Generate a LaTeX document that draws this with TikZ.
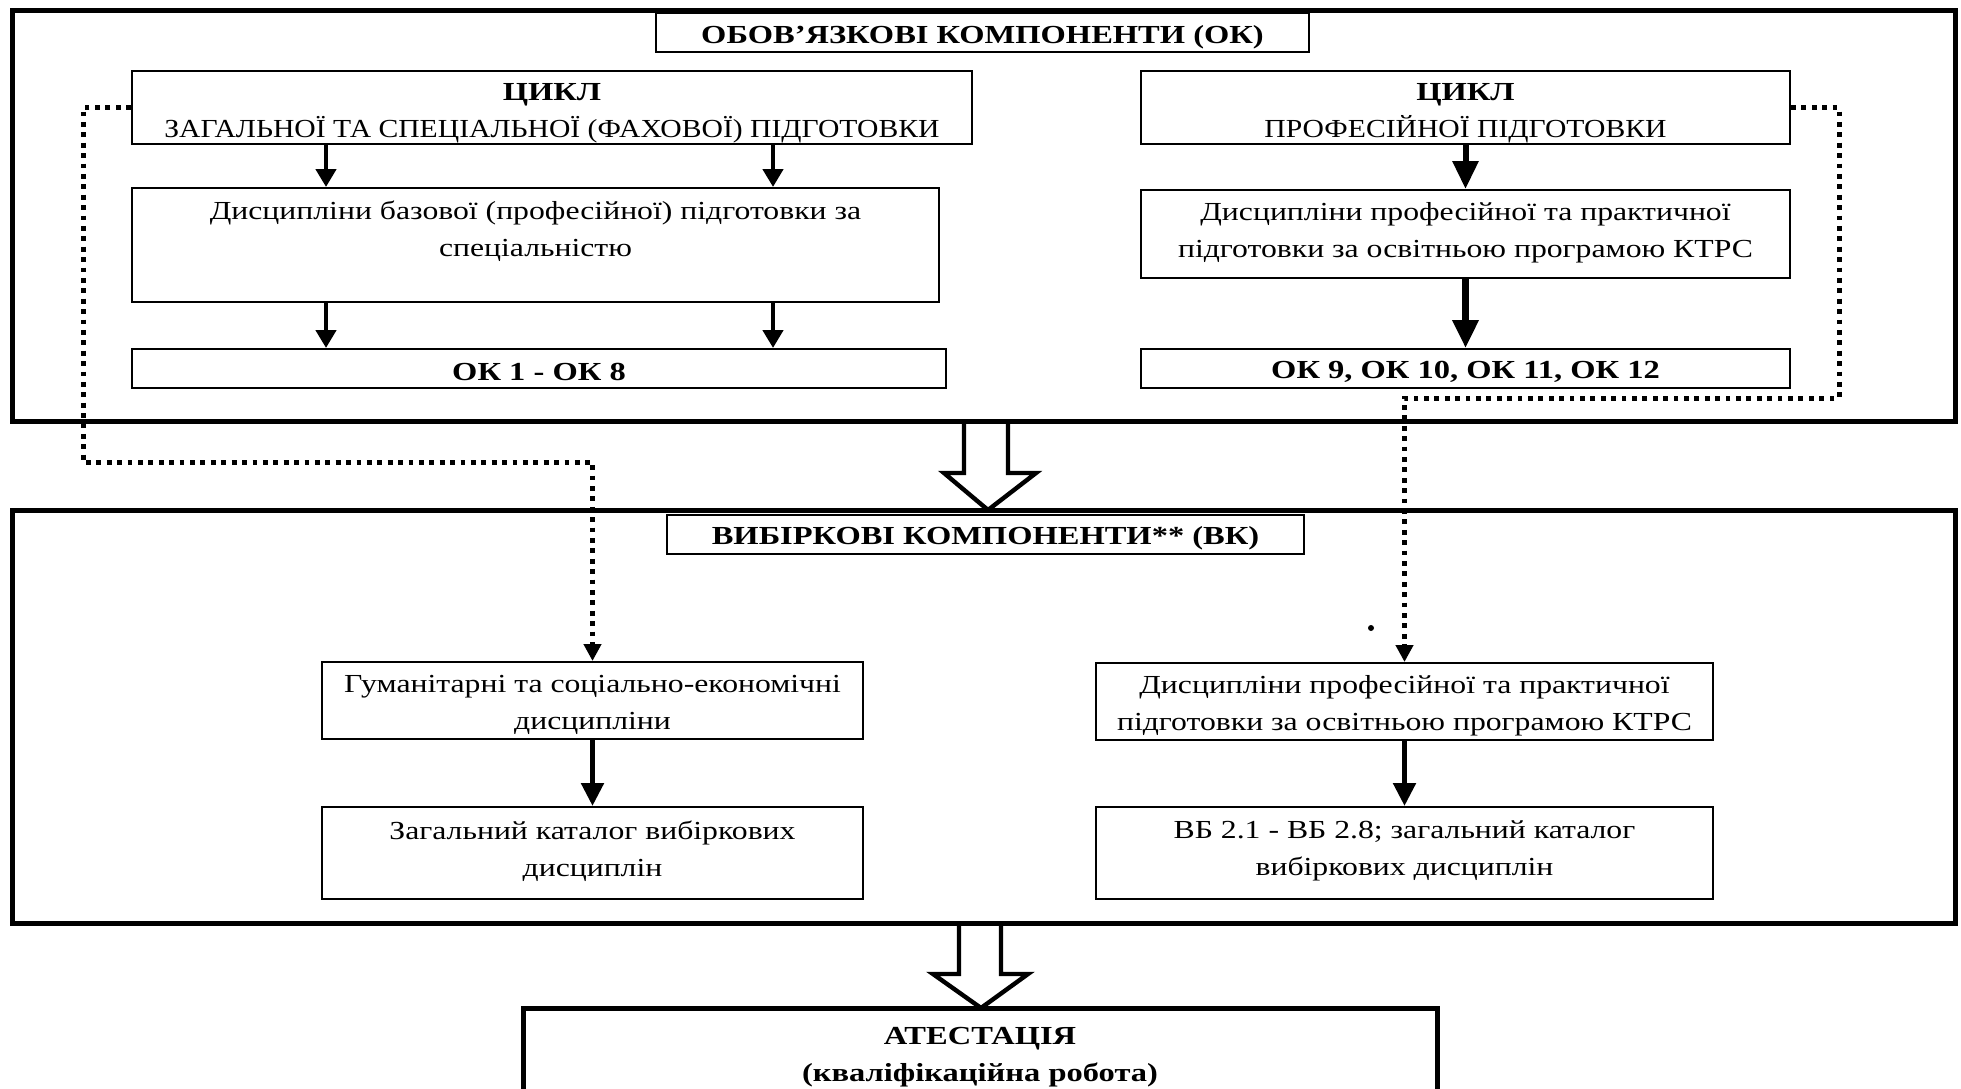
\documentclass[tikz,border=0pt]{standalone}
\usepackage{fontspec}
\setmainfont{Liberation Serif}[FakeStretch=1.22,BoldFeatures={FakeStretch=1.25}]
\newfontfamily\capsreg{Liberation Serif}[FakeStretch=1.14]
\usetikzlibrary{fit,arrows.meta}
\begin{document}
\begin{tikzpicture}[x=0.5pt,y=-0.5pt,
 every node/.style={font=\fontsize{13}{18.5}\selectfont},
 frame/.style={draw,line width=2.5pt,inner sep=0pt},
 box/.style={draw,line width=1pt,inner sep=0pt},
 tbox/.style={draw,line width=1.3pt,inner sep=0pt},
 txt/.style={align=center,inner sep=0pt},
 btxt/.style={txt,font=\fontsize{13}{18.5}\selectfont\bfseries},
 arrA/.style={line width=2.2pt,-{Triangle[length=9pt,width=10pt]}},
 arrB/.style={line width=3pt,-{Triangle[length=14pt,width=12.5pt]}},
 arrC/.style={line width=2.6pt,-{Triangle[length=11.5pt,width=11pt]}},
 dots/.style={line width=2.5pt,dash pattern=on 2.4pt off 2.8pt},
 dotarr/.style={dots,-{Triangle[length=8.5pt,width=8.5pt]}},
 hollow/.style={draw,fill=white,line width=2.2pt,line join=miter},
]
\useasboundingbox (0,0) rectangle (1961,1088);
\clip (0,0) rectangle (1961,1088);

% hollow arrows (drawn first, frames over them)
\draw[hollow] (964,421) -- (964,473) -- (944,473) -- (988,510) -- (1036,473) -- (1008,473) -- (1008,421);
\draw[hollow] (959,923) -- (959,974) -- (933,974) -- (981,1008) -- (1028,974) -- (1001,974) -- (1001,923);

% compulsory components
\node[frame,fit={(12,10)(1955,421)}] (ok) {};
\node[tbox,fit={(656,13)(1309,52)}] (okt) {};
\node[btxt] at (982.5,37) {ОБОВ’ЯЗКОВІ КОМПОНЕНТИ (ОК)};
\node[box,fit={(132,71)(972,144)}] (c1) {};
\node[txt] at (552,113) {\textbf{ЦИКЛ}\\{\capsreg ЗАГАЛЬНОЇ ТА СПЕЦІАЛЬНОЇ (ФАХОВОЇ) ПІДГОТОВКИ}};
\node[box,fit={(132,188)(939,302)}] (d1) {};
\node[txt] at (535.5,231) {Дисципліни базової (професійної) підготовки за\\спеціальністю};
\node[box,fit={(132,349)(946,388)}] (o1) {};
\node[btxt] at (539,372) {ОК 1 - ОК 8};
\node[box,fit={(1141,71)(1790,144)}] (c2) {};
\node[txt] at (1465.5,113) {\textbf{ЦИКЛ}\\{\capsreg ПРОФЕСІЙНОЇ ПІДГОТОВКИ}};
\node[box,fit={(1141,190)(1790,278)}] (d2) {};
\node[txt] at (1465.5,233) {Дисципліни професійної та практичної\\підготовки за освітньою програмою КТРС};
\node[box,fit={(1141,349)(1790,388)}] (o2) {};
\node[btxt] at (1465.5,372) {ОК 9, ОК 10, ОК 11, ОК 12};

% elective components
\node[frame,fit={(12,510)(1955,923)}] (vk) {};
\node[tbox,fit={(667,515)(1304,554)}] (vkt) {};
\node[btxt] at (985.5,538) {ВИБІРКОВІ КОМПОНЕНТИ** (ВК)};
\node[box,fit={(322,662)(863,739)}] (bA) {};
\node[txt] at (592.5,705) {Гуманітарні та соціально-економічні\\дисципліни};
\node[box,fit={(322,807)(863,899)}] (bB) {};
\node[txt] at (592.5,851) {Загальний каталог вибіркових\\дисциплін};
\node[box,fit={(1096,663)(1713,740)}] (bC) {};
\node[txt] at (1404.5,706) {Дисципліни професійної та практичної\\підготовки за освітньою програмою КТРС};
\node[box,fit={(1096,807)(1713,899)}] (bD) {};
\node[txt] at (1404.5,851) {ВБ 2.1 - ВБ 2.8; загальний каталог\\вибіркових дисциплін};
\fill (1371,628) circle[radius=1.5pt];

% attestation
\node[draw,line width=2.5pt,inner sep=0pt,fit={(523,1008)(1437,1130)}] (at) {};
\node[txt,font=\fontsize{13}{18.5}\selectfont\bfseries] at (980,1057) {АТЕСТАЦІЯ\\(кваліфікаційна робота)};

% arrows
\coordinate (xl) at (326,0);
\coordinate (xr) at (773,0);
\draw[arrA] (c1.south -| xl) -- (d1.north -| xl);
\draw[arrA] (c1.south -| xr) -- (d1.north -| xr);
\draw[arrA] (d1.south -| xl) -- (o1.north -| xl);
\draw[arrA] (d1.south -| xr) -- (o1.north -| xr);
\draw[arrB] (c2.south) -- (d2.north);
\draw[arrB,line width=3.4pt] (d2.south) -- (o2.north);
\draw[arrC] (bA.south) -- (bB.north);
\draw[arrC] (bC.south) -- (bD.north);

% dotted connectors
\draw[dotarr] (c1.west) -| (83,462) -| (bA.north);
\draw[dotarr] (c2.east) -| (1839,398) -| (bC.north);
\end{tikzpicture}
\end{document}
